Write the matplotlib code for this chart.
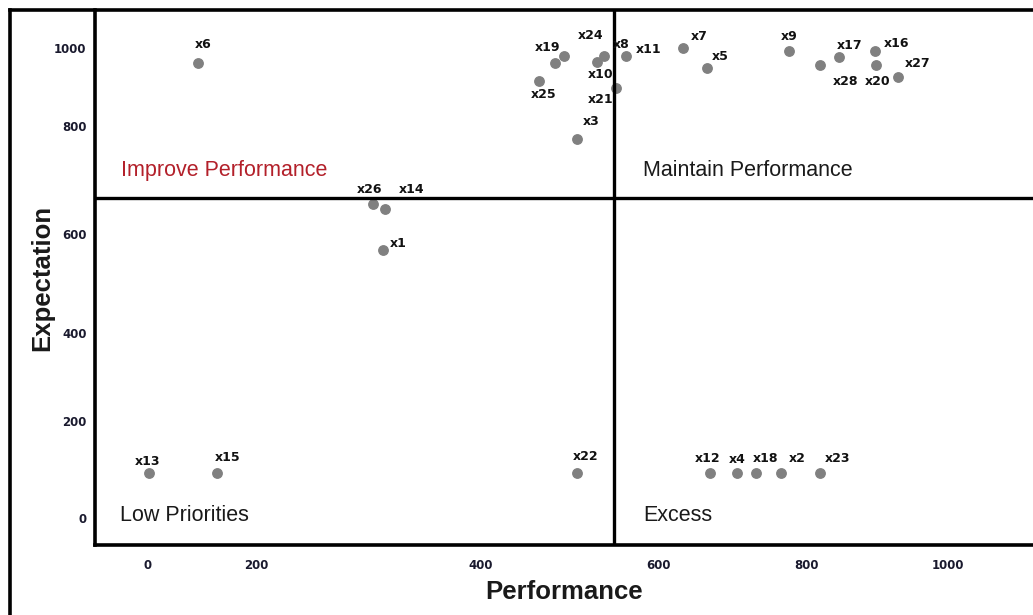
import matplotlib.pyplot as plt
from matplotlib.lines import Line2D

# point names and values (performance, expectation)
names = ["x1", "x2", "x3", "x4", "x5", "x6", "x7", "x8", "x9", "x10",
         "x11", "x12", "x13", "x14", "x15", "x16", "x17", "x18", "x19", "x20",
         "x21", "x22", "x23", "x24", "x25", "x26", "x27", "x28"]
performance = [295, 791, 537, 737, 699, 64, 669, 571, 801, 562,
               598, 703, 2, 297, 87, 909, 864, 760, 509, 910,
               585, 537, 840, 521, 489, 282, 938, 840]
expectation = [570, 96, 806, 96, 957, 968, 1000, 983, 994, 970,
               983, 96, 96, 657, 96, 994, 981, 96, 968, 964,
               915, 96, 96, 983, 930, 668, 938, 964]

# quadrant split
perf_split = 583
exp_split = 681

# tick labels and where they sit on the axes
xtick_labels = ["0", "200", "400", "600", "800", "1000"]
xtick_pos = [0, 137, 417, 638, 823, 1000]
ytick_labels = ["1000", "800", "600", "400", "200", "0"]
ytick_pos = [1000, 834, 604, 394, 206, 0]

# label offsets in pixels (dx, dy) from each point
label_offsets = {
    "x1": (15, 7), "x2": (17, 15), "x3": (14, 18), "x4": (0, 14),
    "x5": (13, 12), "x6": (5, 19), "x7": (16, 12), "x8": (17, 12),
    "x9": (1, 14), "x10": (3, -12), "x11": (23, 7), "x12": (-3, 15),
    "x13": (-1, 12), "x14": (27, 20), "x15": (11, 16), "x16": (21, 7),
    "x17": (10, 12), "x18": (10, 15), "x19": (-7, 16), "x20": (2, -16),
    "x21": (-15, -11), "x22": (8, 17), "x23": (18, 15), "x24": (26, 21),
    "x25": (5, -14), "x26": (-3, 15), "x27": (19, 14), "x28": (26, -16),
}

W, H = 1033, 615
fig = plt.figure(figsize=(W / 100, H / 100), dpi=100)
ax = fig.add_axes([95 / W, (H - 545) / H, (1033 - 95) / W, (545 - 10) / H])

ax.scatter(performance, expectation, s=46, color="#808080", zorder=2)
for n, px, ey in zip(names, performance, expectation):
    dx, dy = label_offsets[n]
    ax.annotate(n, (px, ey), xytext=(dx, dy), textcoords="offset pixels",
                ha="center", va="center", fontsize=9, fontweight="bold",
                family="DejaVu Sans", color="#111111", zorder=4)

ax.axvline(perf_split, color="black", lw=2.4, zorder=3)
ax.axhline(exp_split, color="black", lw=2.4, zorder=3)

ax.set_xlim(-65, 1106)
ax.set_ylim(-57, 1081)

for s in ["top", "right"]:
    ax.spines[s].set_visible(False)
for s in ["left", "bottom"]:
    ax.spines[s].set_linewidth(2.6)

ax.set_xticks(xtick_pos)
ax.set_xticklabels(xtick_labels)
ax.set_yticks(ytick_pos)
ax.set_yticklabels(ytick_labels)
ax.tick_params(length=0, labelsize=8.5, labelcolor="#1a1a2e")
ax.tick_params(axis="x", pad=10)
ax.tick_params(axis="y", pad=6)
for t in ax.get_xticklabels() + ax.get_yticklabels():
    t.set_fontweight("bold")

ax.set_xlabel("Performance", family="Liberation Sans", fontsize=18.5,
              fontweight="bold", color="#1a1a1a", labelpad=6)
ax.set_ylabel("Expectation", family="Liberation Sans", fontsize=18.5,
              fontweight="bold", color="#1a1a1a", labelpad=0)

qfont = dict(family="Liberation Sans", fontsize=15.5, va="center", ha="left")
ax.text(-32, 740, "Improve Performance", color="#b3202a", **qfont)
ax.text(619, 740, "Maintain Performance", color="#1a1a1a", **qfont)
ax.text(-34, 6, "Low Priorities", color="#1a1a1a", **qfont)
ax.text(619, 6, "Excess", color="#1a1a1a", **qfont)

# outer frame on top and left
fig.add_artist(Line2D([10 / W, 1.0], [1 - 10 / H, 1 - 10 / H],
                      color="black", lw=2.6, transform=fig.transFigure))
fig.add_artist(Line2D([10 / W, 10 / W], [0, 1 - 10 / H],
                      color="black", lw=2.6, transform=fig.transFigure))

fig.savefig("out.png", dpi=100)
